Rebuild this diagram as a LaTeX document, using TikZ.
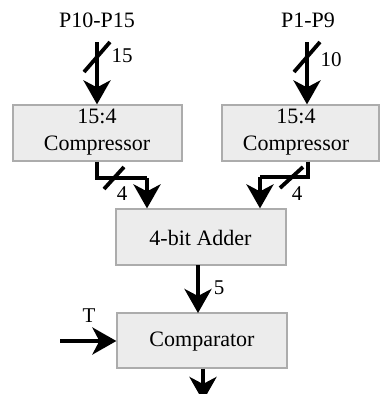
\documentclass[tikz,border=0pt]{standalone}
\usepackage{fontspec}
\setmainfont{Liberation Serif}
\usetikzlibrary{arrows.meta}
\begin{document}
\begin{tikzpicture}[x=1pt,y=-1pt,
  blk/.style={draw=gray!65,line width=1.2pt,fill=gray!15,inner sep=0pt},
  wire/.style={line width=4pt,-{Stealth[length=24pt,width=27pt,inset=7pt]}},
  plain/.style={line width=4pt},
  slash/.style={line width=3.8pt},
  lbl/.style={font=\fontsize{21}{24}\selectfont,inner sep=0pt},
  txt/.style={font=\fontsize{22}{27}\selectfont,align=center,inner sep=0pt}]
\clip (0,0) rectangle (381,394);
\useasboundingbox (0,0) rectangle (381,394);
% boxes
\node[blk,minimum width=169pt,minimum height=56pt] (c1) at (97.5,133) {};
\node[txt] at (97,132) {15:4\\Compressor};
\node[blk,minimum width=157pt,minimum height=56pt] (c2) at (300.5,133) {};
\node[txt] at (296,132) {15:4\\Compressor};
\node[blk,minimum width=170pt,minimum height=56pt] (add) at (201,237) {};
\node[txt] at (200.5,238) {4-bit Adder};
\node[blk,minimum width=170pt,minimum height=55pt] (cmp) at (202,340.5) {};
\node[txt] at (202,342) {Comparator};
% labels
\node[txt] (p1) at (97,20) {P10-P15};
\node[txt] (p2) at (308,20) {P1-P9};
\node[lbl] (n15) at (122,56) {15};
\node[lbl] (n10) at (331,60) {10};
\node[lbl] (n4a) at (122,194) {4};
\node[lbl] (n4b) at (297,194) {4};
\node[lbl] (n5) at (219,288) {5};
\node[lbl] (t) at (89,316) {T};
% coordinates
\coordinate (a1) at (97,42);
\coordinate (a2) at (307,42);
\coordinate (b1) at (97,178);
\coordinate (b1r) at (147,178);
\coordinate (b2) at (308,177);
\coordinate (b2l) at (260,177);
\coordinate (tin) at (60,341);
\coordinate (out) at (203,401);
% input arrows
\draw[wire] (a1) -- (a1 |- c1.north);
\draw[wire] (a2) -- (a2 |- c2.north);
\draw[slash] (84,72) -- (110,42);
\draw[slash] (294,72) -- (320,42);
% compressor outputs
\draw[plain,line join=miter] (b1 |- c1.south) -- (b1) -- (b1r);
\draw[wire,line join=miter] (b1r) -- (b1r |- add.north);
\draw[plain,line join=miter] (b2 |- c2.south) -- (b2) -- (b2l);
\draw[wire,line join=miter] (b2l) -- (b2l |- add.north);
\draw[slash] (104,189) -- (124,167);
\draw[slash] (280,188) -- (303,167);
% adder output
\draw[wire] (198,265) -- (198,313);
% comparator
\draw[wire] (tin) -- (tin -| cmp.west);
\draw[wire] (cmp.south -| out) -- (out);
\end{tikzpicture}
\end{document}
